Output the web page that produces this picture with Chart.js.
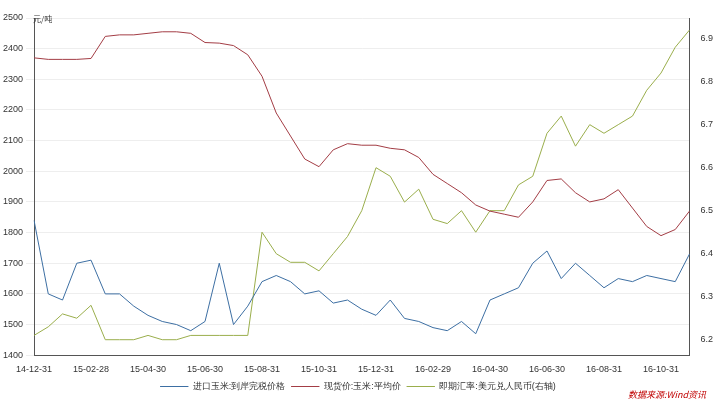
<!DOCTYPE html><html><head><meta charset="utf-8"><script src="https://cdn.jsdelivr.net/npm/chart.js"></script>
<style>body{margin:0;background:#fff;font-family:"Noto Sans CJK SC",sans-serif}#w{position:relative;width:720px;height:405px}</style></head><body><div id="w"><canvas id="c" width="720" height="405"></canvas>
<div style="position:absolute;left:33px;top:13px;font-size:8px;color:#333">元/吨</div>
<div style="position:absolute;right:14px;top:388px;font-size:9px;color:#c00000;font-style:italic">数据来源:Wind资讯</div></div>
<script>
const tickLabels=["14-12-31","15-02-28","15-04-30","15-06-30","15-08-31","15-10-31","15-12-31","16-02-29","16-04-30","16-06-30","16-08-31","16-10-31"];
const categories=[];for(let i=0;i<47;i++)categories.push(i%4===0&&tickLabels[i/4]?tickLabels[i/4]:"");
const importCorn=[1840,1600,1580,1700,1710,1600,1600,1560,1530,1510,1500,1480,1510,1700,1500,1560,1640,1660,1640,1600,1610,1570,1580,1550,1530,1580,1520,1510,1490,1480,1510,1470,1580,1600,1620,1700,1740,1650,1700,1660,1620,1650,1640,1660,1650,1640,1730];
const spotCorn=[2370,2365,2365,2365,2368,2440,2445,2445,2450,2455,2455,2450,2420,2418,2410,2380,2310,2190,2115,2040,2015,2070,2090,2085,2085,2075,2070,2045,1990,1960,1930,1890,1870,1860,1850,1900,1970,1975,1930,1900,1910,1940,1880,1820,1790,1810,1870];
const usdcny=[6.21,6.23,6.26,6.25,6.28,6.20,6.20,6.20,6.21,6.20,6.20,6.21,6.21,6.21,6.21,6.21,6.45,6.40,6.38,6.38,6.36,6.40,6.44,6.50,6.60,6.58,6.52,6.55,6.48,6.47,6.50,6.45,6.50,6.50,6.56,6.58,6.68,6.72,6.65,6.70,6.68,6.70,6.72,6.78,6.82,6.88,6.92];
const ds=(l,d,c,ax)=>({label:l,data:d,borderColor:c,borderWidth:1,pointRadius:0,tension:0,yAxisID:ax});
new Chart(document.getElementById('c'),{type:'line',data:{labels:categories,datasets:[ds('进口玉米:到岸完税价格',importCorn,'#3d6fa3','y'),ds('现货价:玉米:平均价',spotCorn,'#a33d45','y'),ds('即期汇率:美元兑人民币(右轴)',usdcny,'#9aae4c','y1')]},
options:{responsive:false,animation:false,layout:{padding:{left:0,right:4,top:18,bottom:4}},
plugins:{legend:{position:'bottom',labels:{boxWidth:28,boxHeight:0,font:{size:9},color:'#333',padding:6}},tooltip:{enabled:false}},
scales:{x:{grid:{display:false},border:{color:'#555'},ticks:{autoSkip:false,maxRotation:0,padding:1,font:{size:9},color:'#333'}},
y:{min:1400,max:2500,ticks:{stepSize:100,font:{size:9},color:'#333',callback:v=>String(v)},grid:{color:'#eee'},border:{color:'#555'}},
y1:{position:'right',min:6.164,max:6.948,afterBuildTicks:a=>{a.ticks=[6.2,6.3,6.4,6.5,6.6,6.7,6.8,6.9].map(v=>({value:v}))},ticks:{font:{size:9},color:'#333',callback:v=>v.toFixed(1)},grid:{display:false},border:{color:'#555'}}}}});
</script></body></html>
